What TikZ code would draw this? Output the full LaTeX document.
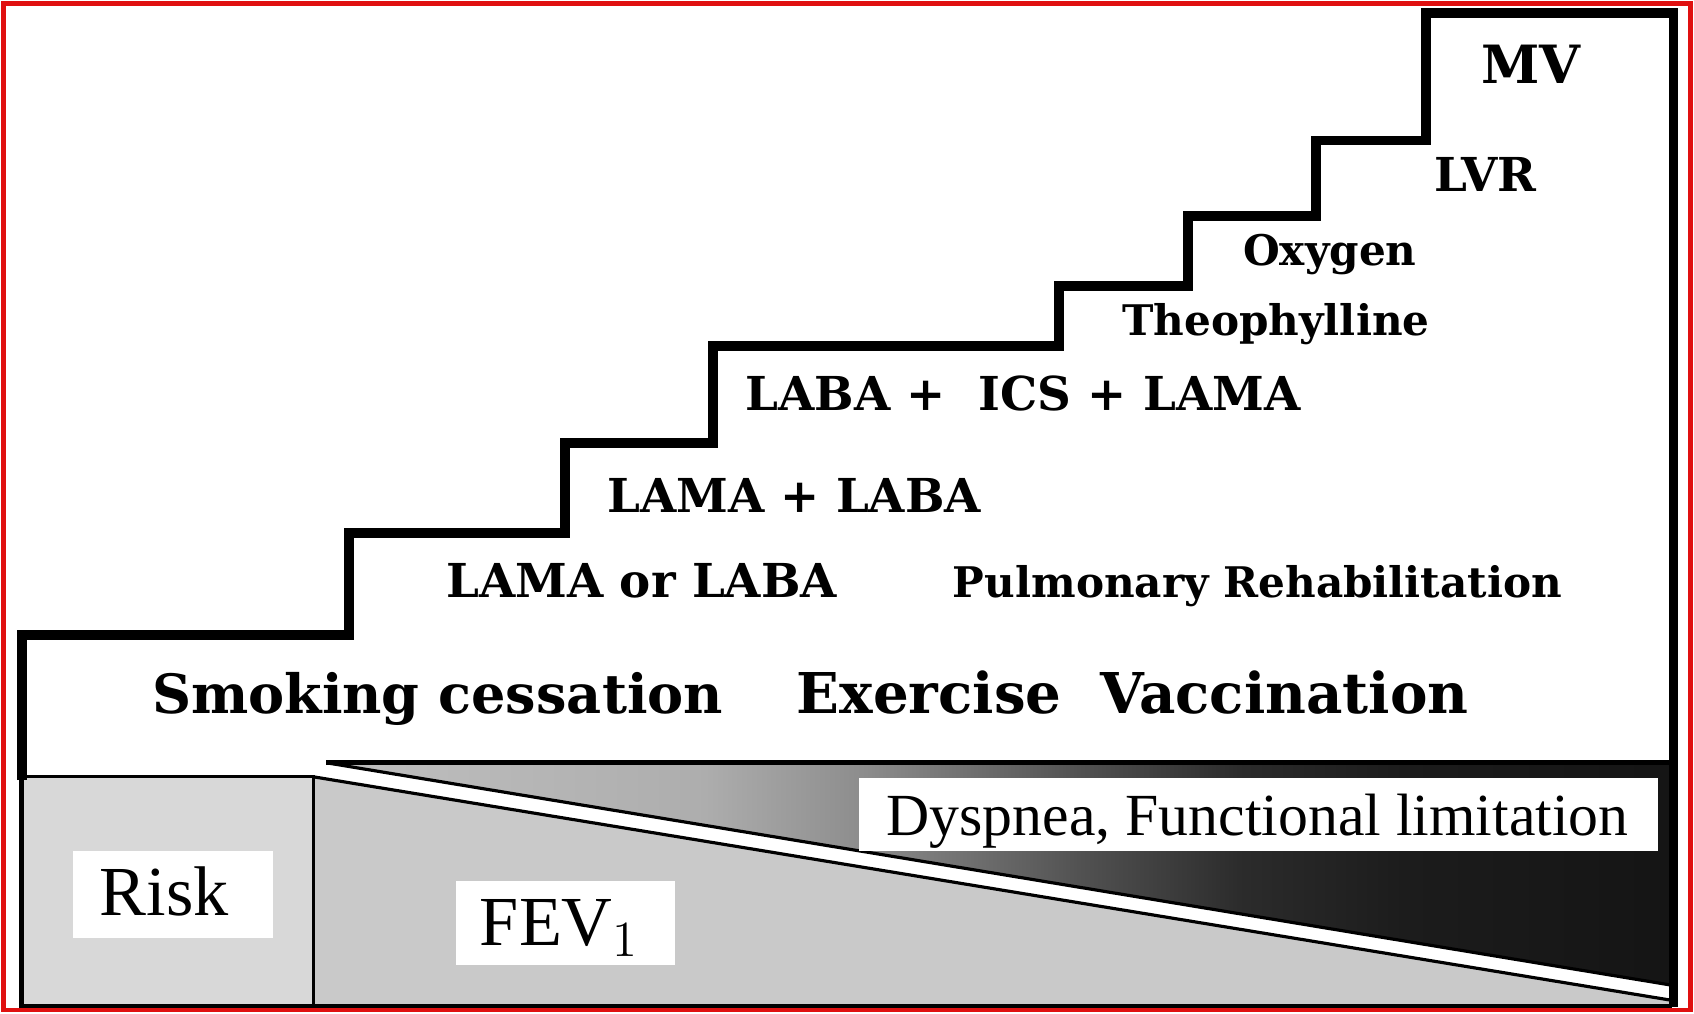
\documentclass[tikz,border=0pt]{standalone}
\usepackage{fontspec}
\setmainfont{Liberation Serif}
\newfontfamily\stepfont{DejaVu Serif}
\usetikzlibrary{positioning}
\definecolor{FrameRed}{HTML}{E01010}
\definecolor{RiskGray}{HTML}{D8D8D8}
\definecolor{FevGray}{HTML}{C9C9C9}
\pgfdeclarehorizontalshading{dyspshade}{100bp}{color(0bp)=(black!25); color(25bp)=(black!25); color(39bp)=(black!32); color(45bp)=(black!45); color(53bp)=(black!68); color(59bp)=(black!83); color(65bp)=(black!89); color(75bp)=(black!92); color(100bp)=(black!92)}

\begin{document}
\begin{tikzpicture}[x=0.010804cm,y=-0.010804cm,
  stairline/.style={line width=2.8pt,line join=miter},
  thinline/.style={line width=0.9pt},
  steplabel/.style={font=\stepfont\bfseries\fontsize{12}{14}\selectfont,anchor=base,inner sep=0pt},
  capslabel/.style={steplabel,font=\stepfont\bfseries\fontsize{13.3}{15}\selectfont},
  baselabel/.style={font=\stepfont\bfseries\fontsize{16}{18}\selectfont,anchor=base,inner sep=0pt}]
\useasboundingbox (0,0) rectangle (1568,938);
\fill[white] (0,0) rectangle (1568,938);
% bottom panels
\fill[RiskGray] (20,719) rectangle (290,932);
\fill[FevGray] (290,719) -- (1548,926) -- (1548,932) -- (290,932) -- cycle;
\shade[shading=dyspshade] (302,706) -- (1548,706) -- (1548,912) -- cycle;
\draw[thinline] (20,719) -- (290,719) -- (290,932);
\draw[thinline] (290,719) -- (1548,926);
\draw[thinline] (302,706) -- (1548,912);
\draw[line width=1.3pt] (302,706) -- (1548,706);
\draw[line width=1.4pt] (20,719) -- (20,932) -- (1548,932);
% staircase
\draw[stairline] (20,722) -- (20,588) -- (323,588) -- (323,493) -- (523,493) -- (523,410) -- (660,410) -- (660,320) -- (980,320) -- (980,265) -- (1100,265) -- (1100,200) -- (1218,200) -- (1218,130) -- (1320,130) -- (1320,12) -- (1549,12) -- (1549,932);
% white tags
\fill[white] (68,788) rectangle (253,868);
\fill[white] (422,815) rectangle (625,893);
\fill[white] (795,720) rectangle (1535,788);
\node[anchor=base,inner sep=0pt,font=\fontsize{20}{22}\selectfont] (risk) at (152,847) {Risk};
\node[anchor=base,inner sep=0pt,font=\fontsize{20}{22}\selectfont] (fev) at (518,875) {FEV$_1$};
\node[anchor=base,inner sep=0pt,font=\fontsize{17}{19}\selectfont] (dysp) at (1164,773) {Dyspnea, Functional limitation};
% step labels
\node[steplabel,font=\stepfont\bfseries\fontsize{15}{17}\selectfont] (mv) at (1417,77) {MV};
\node[capslabel] (lvr) at (1375,177) {LVR};
\node[steplabel] (oxy) at (1231,246) {Oxygen};
\node[steplabel] (theo) at (1181,311) {Theophylline};
\node[capslabel] (triple) at (947,380) {LABA + \ ICS + LAMA};
\node[capslabel] (dual) at (735,474) {LAMA + LABA};
\node[capslabel] (mono) at (594,553) {LAMA or LABA};
\node[steplabel] (rehab) at (1164,553) {Pulmonary Rehabilitation};
\node[baselabel,font=\stepfont\bfseries\fontsize{15.4}{18}\selectfont] (smoke) at (405,660) {Smoking cessation};
\node[baselabel] (exer) at (860,660) {Exercise};
\node[baselabel] (vacc) at (1189,660) {Vaccination};
% frame
\draw[FrameRed,line width=1.3pt] (3,3) rectangle (1565,935);
\end{tikzpicture}
\end{document}
